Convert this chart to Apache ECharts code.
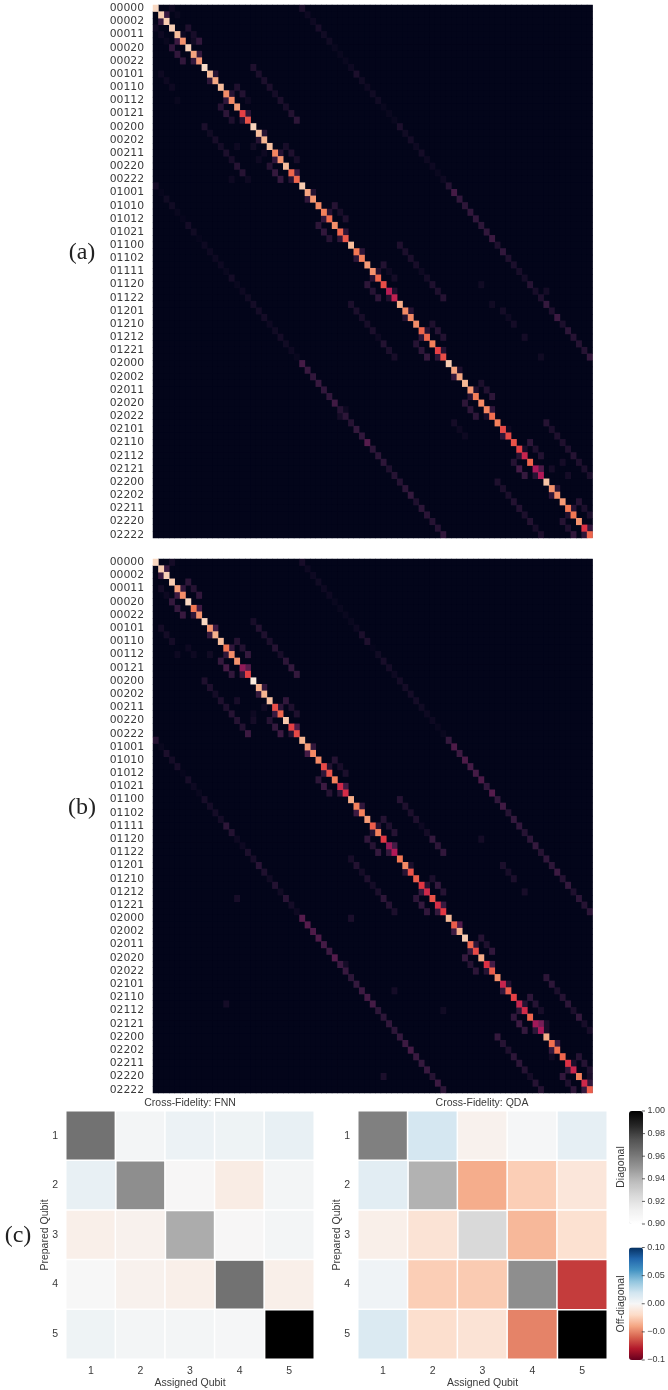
<!DOCTYPE html>
<html><head><meta charset="utf-8">
<style>html,body{margin:0;padding:0;background:#fff}#c{width:668px;height:1390px}</style>
<script src="https://cdn.jsdelivr.net/npm/echarts@6/dist/echarts.min.js"></script>
</head><body><div id="c"></div>
<script>
const stateLabels=["00000","00001","00002","00010","00011","00012","00020","00021","00022","00100","00101","00102","00110","00111","00112","00120","00121","00122","00200","00201","00202","00210","00211","00212","00220","00221","00222","01000","01001","01002","01010","01011","01012","01020","01021","01022","01100","01101","01102","01110","01111","01112","01120","01121","01122","01200","01201","01202","01210","01211","01212","01220","01221","01222","02000","02001","02002","02010","02011","02012","02020","02021","02022","02100","02101","02102","02110","02111","02112","02120","02121","02122","02200","02201","02202","02210","02211","02212","02220","02221","02222"];

// Panel (a)
const aDiag=[.95,.92,.92,.93,.88,.78,.93,.82,.79,.96,.87,.83,.88,.77,.76,.8,.6,.64,.94,.88,.86,.89,.75,.78,.88,.68,.68,.92,.82,.79,.76,.74,.69,.77,.68,.65,.88,.72,.74,.8,.78,.68,.63,.46,.48,.84,.76,.76,.77,.68,.68,.74,.6,.63,.92,.82,.83,.87,.79,.73,.76,.75,.7,.74,.62,.62,.64,.6,.5,.68,.42,.44,.9,.78,.77,.8,.72,.72,.78,.56,.68];
const aP1=[.15,.03,.14,.1,.1,.12,.1,.1,.16,.09,.1,.12,.12,.08,.08,.1,.1,.1,.08,.08,.13,.03,.06,.2,.1,.1,.13];
const aM1=[.14,.16,.14,.12,.13,.1,.1,.13,.1,.13,.13,.12,.12,.1,.08,.09,.12,.12,.14,.1,.06,.12,.1,.1,.12,.08,.12];
const aP3=[.08,.06,.13,.08,.09,.03,.06,.08,.06,.1,.06,.08,.09,.03,.05,.08,.1,.09,.07,.09,.12,.12,.08,.09,.1,.07,.07];
const aM3=[.13,.13,.13,.1,.12,.08,.1,.14,.14,.12,.13,.1,.12,.1,.12,.1,.12,.14,.12,.12,.12,.1,.18,.14,.1,.08,.13];
const aP9=[.08,.07,.07,.07,.05,.07,.06,.09,.12,.08,.07,.07,.06,.03,.05,.08,.08,.1,.1,.07,.08,.08,.08,.1,.08,.07,.07];
const aM9=[.07,.04,.06,.05,.07,.06,.1,.1,.03,.07,.07,.06,.06,.07,.03,.09,.07,.06,.08,.07,.07,.09,.09,.07,.09,.06,.07];
const aP27=[.07,.03,.03,.06,.04,.04,.02,.02,.02,.03,.07,.04,.03,.04,.04,.02,.02,.02,.07,.04,.05,.03,.05,.03,.03,.02,.03,.1,.18,.13,.12,.13,.13,.12,.13,.16,.08,.13,.08,.07,.06,.05,.1,.06,.08,.14,.08,.16,.07,.12,.1,.1,.1,.14];
const aM27=[.05,.01,.04,.04,.02,.01,.05,.04,.01,.03,.03,.03,.03,.02,.05,.02,.03,.04,.05,.05,.05,.03,.04,.05,.04,.03,.02,.18,.15,.13,.15,.13,.13,.17,.1,.12,.1,.14,.13,.22,.12,.12,.12,.08,.1,.1,.12,.14,.08,.12,.11,.1,.1,.13];
const aFaint=[[0,3,.03],[1,4,.02],[3,0,.03],[4,1,.03],[5,2,.02],[5,7,.04],[10,1,.03],[11,2,.03],[12,3,.03],[14,4,.02],[21,15,.03],[21,18,.04],[22,20,.03],[23,19,.03],[26,14,.03],[42,60,.04],[43,72,.05],[46,64,.05],[47,65,.03],[48,66,.05],[50,68,.05],[45,62,.04],[53,71,.04],[61,35,.03],[62,34,.05],[63,55,.05],[64,56,.03],[65,57,.03],[69,75,.05],[70,73,.05],[71,76,.05]];

// Panel (b)
const bDiag=[.95,.92,.93,.92,.8,.77,.95,.72,.78,.95,.78,.85,.88,.71,.77,.78,.36,.6,1,.85,.86,.89,.63,.68,.91,.6,.62,.86,.8,.76,.76,.62,.64,.74,.52,.54,.84,.74,.74,.8,.66,.74,.58,.38,.44,.72,.76,.64,.66,.58,.52,.64,.54,.58,.87,.66,.85,.92,.68,.62,.84,.56,.66,.77,.5,.66,.6,.5,.53,.68,.4,.42,.84,.7,.7,.68,.56,.5,.74,.52,.66];
const bP1=[.15,.13,.17,.16,.13,.22,.13,.12,.2,.13,.09,.17,.13,.1,.18,.07,.1,.15,.22,.12,.18,.1,.1,.3,.15,.07,.13];
const bM1=[.15,.16,.12,.14,.12,.14,.14,.15,.1,.18,.12,.12,.16,.1,.14,.1,.14,.14,.16,.14,.1,.13,.12,.12,.14,.12,.14];
const bP3=[.12,.1,.13,.1,.09,.14,.13,.08,.08,.1,.06,.07,.1,.08,.1,.07,.14,.1,.1,.08,.13,.12,.1,.06,.1,.1,.08];
const bM3=[.14,.14,.15,.14,.18,.13,.1,.14,.16,.12,.16,.1,.13,.1,.14,.12,.14,.13,.14,.1,.12,.13,.16,.14,.13,.08,.12];
const bP9=[.06,.09,.08,.07,.1,.06,.12,.14,.14,.1,.08,.07,.08,.03,.05,.14,.12,.13,.12,.12,.07,.1,.12,.07,.14,.06,.14];
const bM9=[.08,.08,.05,.08,.08,.1,.1,.09,.16,.06,.09,.05,.08,.05,.07,.12,.1,.07,.14,.1,.08,.12,.12,.1,.05,.1,.1];
const bP27=[.06,.03,.03,.04,.03,.03,.02,.02,.02,.02,.03,.07,.08,.01,.04,.06,.05,.03,.05,.05,.05,.05,.04,.03,.03,.02,.02,.14,.2,.16,.2,.18,.18,.2,.13,.22,.13,.17,.1,.14,.13,.1,.12,.14,.1,.13,.12,.16,.1,.14,.08,.12,.1,.12];
const bM27=[.1,.02,.07,.05,.06,.01,.06,.03,.02,.06,.05,.05,.05,.12,.09,.03,.03,.07,.06,.11,.08,.04,.09,.04,.11,.05,.03,.22,.22,.2,.2,.18,.16,.22,.16,.15,.12,.14,.16,.18,.18,.12,.12,.13,.12,.14,.16,.18,.15,.14,.15,.1,.16,.12];
const bFaint=[[0,3,.05],[4,1,.05],[5,2,.03],[10,1,.05],[11,2,.05],[12,3,.05],[14,4,.03],[14,7,.03],[14,10,.04],[13,6,.03],[21,15,.06],[22,20,.04],[24,18,.05],[23,18,.03],[42,60,.05],[46,64,.07],[47,65,.06],[48,66,.07],[50,68,.06],[54,36,.07],[61,35,.05],[78,42,.07],[65,44,.05],[68,53,.04],[70,72,.06],[71,72,.06],[71,80,.06],[75,73,.04],[78,80,.06],[51,15,.06],[67,13,.05]];

// Panel (c)
const qubits=["1","2","3","4","5"];
const fnnDiag=[.963,.953,.943,.963,1];
const qdaDiag=[.958,.941,.925,.953,1];
const fnnOff=[[0,.002,.006,.005,.008],[.008,0,-.0005,-.008,.002],[-.006,-.004,0,-.0005,.002],[0,-.004,-.006,0,-.006],[.005,.002,.002,.001,0]];
const qdaOff=[[0,.018,-.004,.001,.009],[.011,0,-.037,-.025,-.012],[-.006,-.014,0,-.033,-.016],[.004,-.025,-.026,0,-.07],[.015,-.017,-.014,-.05,0]];
const diagTicks=[.9,.92,.94,.96,.98,1];
const offTicks=[-.1,-.05,0,.05,.1];
const offTickLabels=["\u22120.1","\u22120.0","0.00","0.05","0.10"];

// Colour maps
const rocket=["#03051a","#35193e","#701f57","#ad1759","#e13342","#f37651","#f6b48f","#faebdd"];
const greys=["#ffffff","#f0f0f0","#d9d9d9","#bdbdbd","#969696","#737373","#525252","#252525","#000000"];
const rdbu=["#67001f","#b2182b","#d6604d","#f4a582","#fddbc7","#f7f7f7","#d1e5f0","#92c5de","#4393c3","#2166ac","#053061"];

function every(start,end,test){const o=[];for(let r=start;r<=end;r++)if(test(r))o.push(r);return o;}
function matrix(diag,p1,m1,p3,m3,p9,m9,p27,m27,faint){
  const m=[];for(let r=0;r<81;r++){m.push(new Array(81).fill(0));m[r][r]=diag[r];}
  const put=(rows,vals,off)=>rows.forEach((r,i)=>{m[r][r+off]=vals[i];});
  put(every(0,80,r=>r%3===1),p1,1);
  put(every(0,80,r=>r%3===2),m1,-1);
  put(every(0,80,r=>r%9>=3&&r%9<=5),p3,3);
  put(every(0,80,r=>r%9>=6),m3,-3);
  put(every(0,80,r=>r%27>=9&&r%27<=17),p9,9);
  put(every(0,80,r=>r%27>=18),m9,-9);
  put(every(0,53,()=>true),p27,27);
  put(every(27,80,()=>true),m27,-27);
  faint.forEach(f=>{m[f[0]][f[1]]=f[2];});
  const out=[];m.forEach((row,r)=>row.forEach((v,c)=>out.push([c,r,v])));
  return out.sort((p,q)=>p[2]-q[2]);
}
const aData=matrix(aDiag,aP1,aM1,aP3,aM3,aP9,aM9,aP27,aM27,aFaint);
const bData=matrix(bDiag,bP1,bM1,bP3,bM3,bP9,bM9,bP27,bM27,bFaint);
const diagCells=d=>d.map((v,i)=>[i,i,v]);
function offCells(m){const o=[];m.forEach((row,r)=>row.forEach((v,c)=>{if(r!==c)o.push([c,r,v]);}));return o;}

const TXT="#3a3a3a", SANS="Liberation Sans", DJ="DejaVu Sans";
const idx81=stateLabels;
function mainY(i){return {gridIndex:i,type:'category',inverse:true,data:idx81,axisLine:{show:false},axisTick:{show:false},splitLine:{show:false},
  axisLabel:{interval:1,fontFamily:DJ,fontSize:10.8,color:TXT,margin:9}};}
function mainX(i){return {gridIndex:i,type:'category',data:idx81,show:false};}
function qX(i){return {gridIndex:i,type:'category',data:qubits,axisLine:{show:false},axisTick:{show:false},splitLine:{show:false},
  axisLabel:{fontFamily:SANS,fontSize:10.5,color:TXT,margin:7},
  name:'Assigned Qubit',nameLocation:'middle',nameGap:19,nameMoveOverlap:false,nameTextStyle:{fontFamily:SANS,fontSize:10.5,color:TXT}};}
function qY(i){return {gridIndex:i,type:'category',inverse:true,data:qubits,axisLine:{show:false},axisTick:{show:false},splitLine:{show:false},
  axisLabel:{fontFamily:SANS,fontSize:10.5,color:TXT,margin:8},
  name:'Prepared Qubit',nameLocation:'middle',nameGap:15,nameMoveOverlap:false,nameTextStyle:{fontFamily:SANS,fontSize:10.5,color:TXT}};}
function heat(name,i,data,bw){return {name,type:'heatmap',xAxisIndex:i,yAxisIndex:i,data,progressive:0,silent:true,
  itemStyle:bw?{borderColor:'#fff',borderWidth:bw}:{borderWidth:0},emphasis:{disabled:true}};}
function cbAxis(i,min,max,interval,fmt){return {gridIndex:i,type:'value',position:'right',min,max,interval,z:10,
  axisLine:{show:false},splitLine:{show:false},axisTick:{show:false},
  axisLabel:{fontFamily:SANS,fontSize:9,color:TXT,margin:9,formatter:fmt}};}
function tickMarks(i,values){return {name:'ticks'+i,type:'scatter',xAxisIndex:i,yAxisIndex:i,clip:false,silent:true,z:20,
  data:values.map(v=>[1,v]),symbol:'rect',symbolSize:[3,1],symbolOffset:[5,0],itemStyle:{color:TXT}};}
function sideText(text,x,y,size,font,rot){return {type:'text',x,y,rotation:rot||0,silent:true,
  style:{text,fontFamily:font,fontSize:size,fill:rot?TXT:'#222',textAlign:'center',textVerticalAlign:'middle'}};}

const option={
  animation:false,backgroundColor:'#fff',
  title:[
    {text:'Cross-Fidelity: FNN',left:190,top:1098,textAlign:'center',padding:0,textStyle:{fontFamily:SANS,fontSize:10.5,fontWeight:'normal',color:TXT}},
    {text:'Cross-Fidelity: QDA',left:482,top:1098,textAlign:'center',padding:0,textStyle:{fontFamily:SANS,fontSize:10.5,fontWeight:'normal',color:TXT}}
  ],
  grid:[
    {left:153,top:5,width:439.5,height:533,show:true,backgroundColor:'#03051a',borderWidth:0},
    {left:153,top:559,width:439.5,height:534,show:true,backgroundColor:'#03051a',borderWidth:0},
    {left:66,top:1111,width:248,height:249},
    {left:358,top:1111,width:249,height:249},
    {left:629,top:1111,width:14,height:113},
    {left:629,top:1247.5,width:14,height:112.5}
  ],
  xAxis:[mainX(0),mainX(1),qX(2),qX(3),
    {gridIndex:4,type:'value',show:false,min:0,max:1},{gridIndex:5,type:'value',show:false,min:0,max:1}],
  yAxis:[mainY(0),mainY(1),qY(2),qY(3),
    cbAxis(4,.9,1,.02,v=>v.toFixed(2)),
    cbAxis(5,-.1,.1,.05,v=>offTickLabels[Math.round((v+.1)/.05)])],
  visualMap:[
    {type:'continuous',min:0,max:1,seriesIndex:[0,1],show:false,inRange:{color:rocket}},
    {type:'continuous',min:.9,max:1,seriesIndex:[2,4],show:true,left:629,top:1111,padding:0,itemWidth:14,itemHeight:113,calculable:false,hoverLink:false,inRange:{color:greys}},
    {type:'continuous',min:-.1,max:.1,seriesIndex:[3,5],show:true,left:629,top:1247.5,padding:0,itemWidth:14,itemHeight:112.5,calculable:false,hoverLink:false,inRange:{color:rdbu}}
  ],
  series:[
    heat('a',0,aData),
    heat('b',1,bData),
    heat('FNN diagonal',2,diagCells(fnnDiag),1.5),
    heat('FNN off-diagonal',2,offCells(fnnOff),1.5),
    heat('QDA diagonal',3,diagCells(qdaDiag),1.5),
    heat('QDA off-diagonal',3,offCells(qdaOff),1.5),
    tickMarks(4,diagTicks),
    tickMarks(5,offTicks)
  ],
  graphic:[
    sideText('(a)',82,253,24,'Liberation Serif'),
    sideText('(b)',82,808,24,'Liberation Serif'),
    sideText('(c)',18,1236,24,'Liberation Serif'),
    sideText('Diagonal',621.5,1167,10.5,SANS,Math.PI/2),
    sideText('Off-diagonal',621.5,1304,10.5,SANS,Math.PI/2)
  ]
};
const chart=echarts.init(document.getElementById('c'),null,{renderer:'canvas',width:668,height:1390});
chart.setOption(option);
</script>
</body></html>
